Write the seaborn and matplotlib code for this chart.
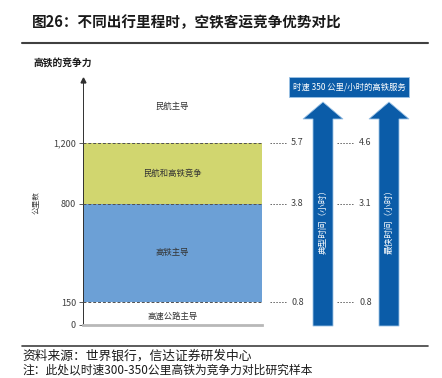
import matplotlib
matplotlib.use("Agg")
import matplotlib.pyplot as plt
from matplotlib.patches import Polygon, Rectangle
from matplotlib.transforms import blended_transform_factory
import seaborn as sns
import pandas as pd

# data
band_tops = [1200, 800, 150]          # km, drawn largest first
band_colors = ["#d1d66f", "#6ca0d6", "#ffffff"]
y_ticks = [0, 150, 800, 1200]
zone_labels = ["高速公路主导", "高铁主导", "民航和高铁竞争", "民航主导"]
zone_label_y = [55, 475, 1000, 1440]
boundaries = [150, 800, 1200]
typical_hours = [0.8, 3.8, 5.7]
fastest_hours = [0.8, 3.1, 4.6]

sns.set_theme(style="white")
plt.rcParams["font.family"] = ["Noto Sans CJK SC", "DejaVu Sans"]

W, H = 442, 378
fig = plt.figure(figsize=(W / 100, H / 100), dpi=100)

# main axes: px 83..262 horizontally, 80..325 vertically
ax = fig.add_axes([83 / W, 1 - 325 / H, (262 - 83) / W, (325 - 80) / H])
for top, col in zip(band_tops, band_colors):
    df = pd.DataFrame({"k": ["d"], "v": [top]})
    sns.barplot(data=df, x="k", y="v", color=col, width=1.0, saturation=1,
                linewidth=0, ax=ax)
ax.set_xlim(-0.5, 0.5)
ax.set_ylim(0, 1615)
ax.set_xlabel("")
ax.set_ylabel("公里数", fontsize=5.5, color="#404040", labelpad=9)
ax.set_xticks([])
ax.set_yticks(y_ticks)
ax.set_yticklabels([f"{v:,}" for v in y_ticks], fontsize=6.5, color="#404040")
ax.tick_params(axis="y", left=True, length=3, width=0.6, color="#404040", pad=2)
for b in boundaries:
    ax.axhline(b, color="#505050", lw=0.7, ls=(0, (3, 2)), zorder=5)
for s in ["top", "right"]:
    ax.spines[s].set_visible(False)
ax.spines["left"].set_color("#303030")
ax.spines["left"].set_linewidth(0.7)
ax.spines["bottom"].set_color("#b8b8b8")
ax.spines["bottom"].set_linewidth(2)
ax.plot(0, 1, marker="^", ms=3.5, color="#303030", transform=ax.transAxes,
        clip_on=False)
for lab, yv in zip(zone_labels, zone_label_y):
    ax.text(0, yv, lab, ha="center", va="center", fontsize=6, color="#333333")

# overlay in pixel coordinates
ov = fig.add_axes([0, 0, 1, 1])
ov.set_xlim(0, W)
ov.set_ylim(H, 0)
ov.axis("off")

ov.text(32, 22, "图26：不同出行里程时，空铁客运竞争优势对比", fontsize=10.5,
        fontweight="bold", color="#1a1a1a", va="center")
ov.plot([22, 428], [43, 43], color="#404040", lw=1.5)
ov.text(33, 63, "高铁的竞争力", fontsize=7, fontweight="bold", color="#1a1a1a",
        va="center")

mix = blended_transform_factory(ov.transData, ax.transData)
for b, t, f in zip(boundaries, typical_hours, fastest_hours):
    ov.plot([270, 286], [b, b], color="#606060", lw=0.7, ls=(0, (1.5, 1.5)),
            transform=mix)
    ov.plot([337, 353], [b, b], color="#606060", lw=0.7, ls=(0, (1.5, 1.5)),
            transform=mix)
    ov.text(291, b, f"{t:.1f}", fontsize=6.5, color="#404040", va="center",
            transform=mix)
    ov.text(359, b, f"{f:.1f}", fontsize=6.5, color="#404040", va="center",
            transform=mix)

arrow_blue = "#0b5ca8"
edge_blue = "#9cc3e6"
for cx, lab in [(323, "典型时间（小时）"), (389, "最快时间（小时）")]:
    pts = [(cx - 10, 326), (cx + 10, 326), (cx + 10, 119), (cx + 20, 119),
           (cx, 102), (cx - 20, 119), (cx - 10, 119)]
    ov.add_patch(Polygon(pts, closed=True, facecolor=arrow_blue,
                         edgecolor=edge_blue, lw=0.6))
    ov.text(cx, 220, lab, rotation=90, ha="center", va="center", fontsize=6.2,
            color="white")

ov.add_patch(Rectangle((289, 77), 120, 20, facecolor=arrow_blue,
                       edgecolor=edge_blue, lw=0.6))
ov.text(349, 87, "时速 350 公里/小时的高铁服务", ha="center", va="center",
        fontsize=6, color="white")

ov.plot([22, 428], [346, 346], color="#404040", lw=1.2)
ov.text(22, 356, "资料来源：世界银行，信达证券研发中心", fontsize=9.2,
        color="#1a1a1a", va="center")
ov.text(22, 370, "注：此处以时速300-350公里高铁为竞争力对比研究样本", fontsize=8.5,
        color="#1a1a1a", va="center")

fig.savefig("out.png", dpi=100)
